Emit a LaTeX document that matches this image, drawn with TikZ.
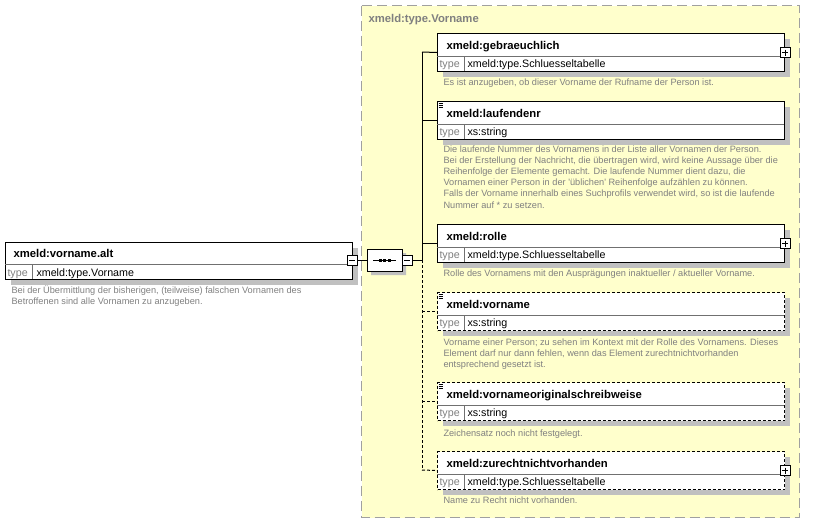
\documentclass[tikz,border=0pt]{standalone}
\usepackage{fontspec}
\setmainfont{Liberation Sans}
\usetikzlibrary{shadows,shapes.misc}
\definecolor{grpfill}{HTML}{FFFFCC}
\definecolor{grpline}{HTML}{A0A0A0}
\definecolor{shadegray}{HTML}{C0C0C0}
\definecolor{notegray}{HTML}{808080}
\definecolor{rulegray}{HTML}{707070}
\begin{document}
\begin{tikzpicture}[x=1pt,y=-1pt,line width=1pt]
\tikzstyle{every node}+=[inner sep=0pt]
\tikzstyle{elbox}=[draw,fill=white,anchor=north west,minimum width=347pt,minimum height=38pt,drop shadow={shadow xshift=5pt,shadow yshift=-5pt,fill=shadegray,opacity=1}]
\tikzstyle{optbox}=[elbox,dash pattern=on 3pt off 2pt]
\tikzstyle{optline}=[dash pattern=on 3pt off 2pt]
\tikzstyle{simplemark}=[line width=0.9pt]
\tikzstyle{ttl}=[anchor=base west,font=\fontsize{11.3}{13}\selectfont\bfseries]
\tikzstyle{typelbl}=[anchor=base west,text=notegray,font=\fontsize{10.7}{12}\selectfont]
\tikzstyle{typeval}=[anchor=base west,font=\fontsize{10.7}{12}\selectfont]
% multi-line notes sit on the baseline of their last line
\tikzstyle{note}=[anchor=base west,align=left,text=notegray,font=\fontsize{9.2}{11.2}\selectfont]
\tikzstyle{plusbox}=[draw,solid,fill=white,minimum size=10pt,path picture={\draw ([xshift=2pt]path picture bounding box.west) -- ([xshift=-2pt]path picture bounding box.east); \draw ([yshift=-2pt]path picture bounding box.north) -- ([yshift=2pt]path picture bounding box.south);}]
\tikzstyle{minusbox}=[draw,solid,fill=white,minimum size=10pt,path picture={\draw ([xshift=2pt]path picture bounding box.west) -- ([xshift=-2pt]path picture bounding box.east);}]
\tikzstyle{seqbox}=[chamfered rectangle,chamfered rectangle xsep=5pt,chamfered rectangle ysep=5pt,draw,fill=white,minimum width=35pt,minimum height=22pt,drop shadow={shadow xshift=4pt,shadow yshift=-4pt,fill=shadegray,opacity=1}]
\useasboundingbox (0,0) rectangle (818,523);
% complex type group
\draw [grpline,fill=grpfill,dash pattern=on 10pt off 5pt] (361.5,5.5) rectangle (799.5,517.5);
\node [ttl,text=notegray] (grptitle) at (368,22) {xmeld:type.Vorname};
% element xmeld:vorname.alt
\node [elbox,minimum height=37pt] (alt) at (5,242) {};
\draw [rulegray] (5,264) -- (352,264);
\draw [rulegray] (32,264) -- (32,279);
\node [ttl] (altname) at (13,257) {xmeld:vorname.alt};
\node [typelbl] (alttype) at (7,276) {type};
\node [typeval] (altval) at (36,276) {xmeld:type.Vorname};
\node [note] (altnote) at (11,304.2) {Bei der Übermittlung der bisherigen, (teilweise) falschen Vornamen des\\Betroffenen sind alle Vornamen zu anzugeben.};
\node [minusbox] (altminus) at (352,260) {};
% sequence
\node [seqbox] (seq) at (384.5,260) {};
\draw (373,260) -- (396,260);
\fill (378.5,258.5) rectangle ++(3,3);
\fill (383,258.5) rectangle ++(3,3);
\fill (387.5,258.5) rectangle ++(3,3);
\node [minusbox] (seqminus) at (407,260) {};
\draw (altminus) -- (seq);
\coordinate (bustop) at (422,52);
\coordinate (busmid) at (422,260);
\coordinate (busbot) at (422,470);
\draw (seqminus) -- (busmid);
\draw (bustop) -- (busmid);
\draw [optline] (busmid) -- (busbot);
% xmeld:gebraeuchlich
\node [elbox] (gebr) at (437,33) {};
\draw [rulegray] (437,56) -- (784,56);
\draw [rulegray] (464,56) -- (464,71);
\node [ttl] (gebrname) at (446,49) {xmeld:gebraeuchlich};
\node [typelbl] (gebrtype) at (439,67) {type};
\node [typeval] (gebrval) at (467,67) {xmeld:type.Schluesseltabelle};
\node [note] (gebrnote) at (443,85) {Es ist anzugeben, ob dieser Vorname der Rufname der Person ist.};
\node [plusbox] (gebrplus) at (gebr.east) {};
\draw (bustop) -- (gebr.west);
% xmeld:laufendenr
\node [elbox] (lauf) at (437,101) {};
\draw [rulegray] (437,124) -- (784,124);
\draw [rulegray] (464,124) -- (464,139);
\draw [simplemark] (438.5,103) -- (442.5,103) (438.5,105) -- (442.5,105) (438.5,107) -- (442.5,107);
\node [ttl] (laufname) at (446,117) {xmeld:laufendenr};
\node [typelbl] (lauftype) at (439,135) {type};
\node [typeval] (laufval) at (467,135) {xs:string};
\node [note] (laufnote) at (443,208) {Die laufende Nummer des Vornamens in der Liste aller Vornamen der Person.\\Bei der Erstellung der Nachricht, die übertragen wird, wird keine Aussage über die\\Reihenfolge der Elemente gemacht. Die laufende Nummer dient dazu, die\\Vornamen einer Person in der \textquotesingle üblichen\textquotesingle\ Reihenfolge aufzählen zu können.\\Falls der Vorname innerhalb eines Suchprofils verwendet wird, so ist die laufende\\Nummer auf * zu setzen.};
\draw (lauf.west -| bustop) -- (lauf.west);
% xmeld:rolle
\node [elbox] (rolle) at (437,224) {};
\draw [rulegray] (437,247) -- (784,247);
\draw [rulegray] (464,247) -- (464,262);
\node [ttl] (rollename) at (446,240) {xmeld:rolle};
\node [typelbl] (rolletype) at (439,258) {type};
\node [typeval] (rolleval) at (467,258) {xmeld:type.Schluesseltabelle};
\node [note] (rollenote) at (443,276) {Rolle des Vornamens mit den Ausprägungen inaktueller / aktueller Vorname.};
\node [plusbox] (rolleplus) at (rolle.east) {};
\draw (rolle.west -| bustop) -- (rolle.west);
% xmeld:vorname
\node [optbox] (vorn) at (437,292) {};
\draw [rulegray] (437,315) -- (784,315);
\draw [rulegray] (464,315) -- (464,330);
\draw [simplemark] (438.5,294) -- (442.5,294) (438.5,296) -- (442.5,296) (438.5,298) -- (442.5,298);
\node [ttl] (vornname) at (446,308) {xmeld:vorname};
\node [typelbl] (vorntype) at (439,326) {type};
\node [typeval] (vornval) at (467,326) {xs:string};
\node [note] (vornnote) at (443,367.4) {Vorname einer Person; zu sehen im Kontext mit der Rolle des Vornamens. Dieses\\Element darf nur dann fehlen, wenn das Element zurechtnichtvorhanden\\entsprechend gesetzt ist.};
\draw [optline] (vorn.west -| bustop) -- (vorn.west);
% xmeld:vornameoriginalschreibweise
\node [optbox] (orig) at (437,382) {};
\draw [rulegray] (437,405) -- (784,405);
\draw [rulegray] (464,405) -- (464,420);
\draw [simplemark] (438.5,384) -- (442.5,384) (438.5,386) -- (442.5,386) (438.5,388) -- (442.5,388);
\node [ttl] (origname) at (446,398) {xmeld:vornameoriginalschreibweise};
\node [typelbl] (origtype) at (439,416) {type};
\node [typeval] (origval) at (467,416) {xs:string};
\node [note] (orignote) at (443,436) {Zeichensatz noch nicht festgelegt.};
\draw [optline] (orig.west -| bustop) -- (orig.west);
% xmeld:zurechtnichtvorhanden
\node [optbox] (zure) at (437,451) {};
\draw [rulegray] (437,474) -- (784,474);
\draw [rulegray] (464,474) -- (464,489);
\node [ttl] (zurename) at (446,467) {xmeld:zurechtnichtvorhanden};
\node [typelbl] (zuretype) at (439,485) {type};
\node [typeval] (zureval) at (467,485) {xmeld:type.Schluesseltabelle};
\node [note] (zurenote) at (443,503) {Name zu Recht nicht vorhanden.};
\node [plusbox] (zureplus) at (zure.east) {};
\draw [optline] (busbot) -- (zure.west);
\end{tikzpicture}
\end{document}
